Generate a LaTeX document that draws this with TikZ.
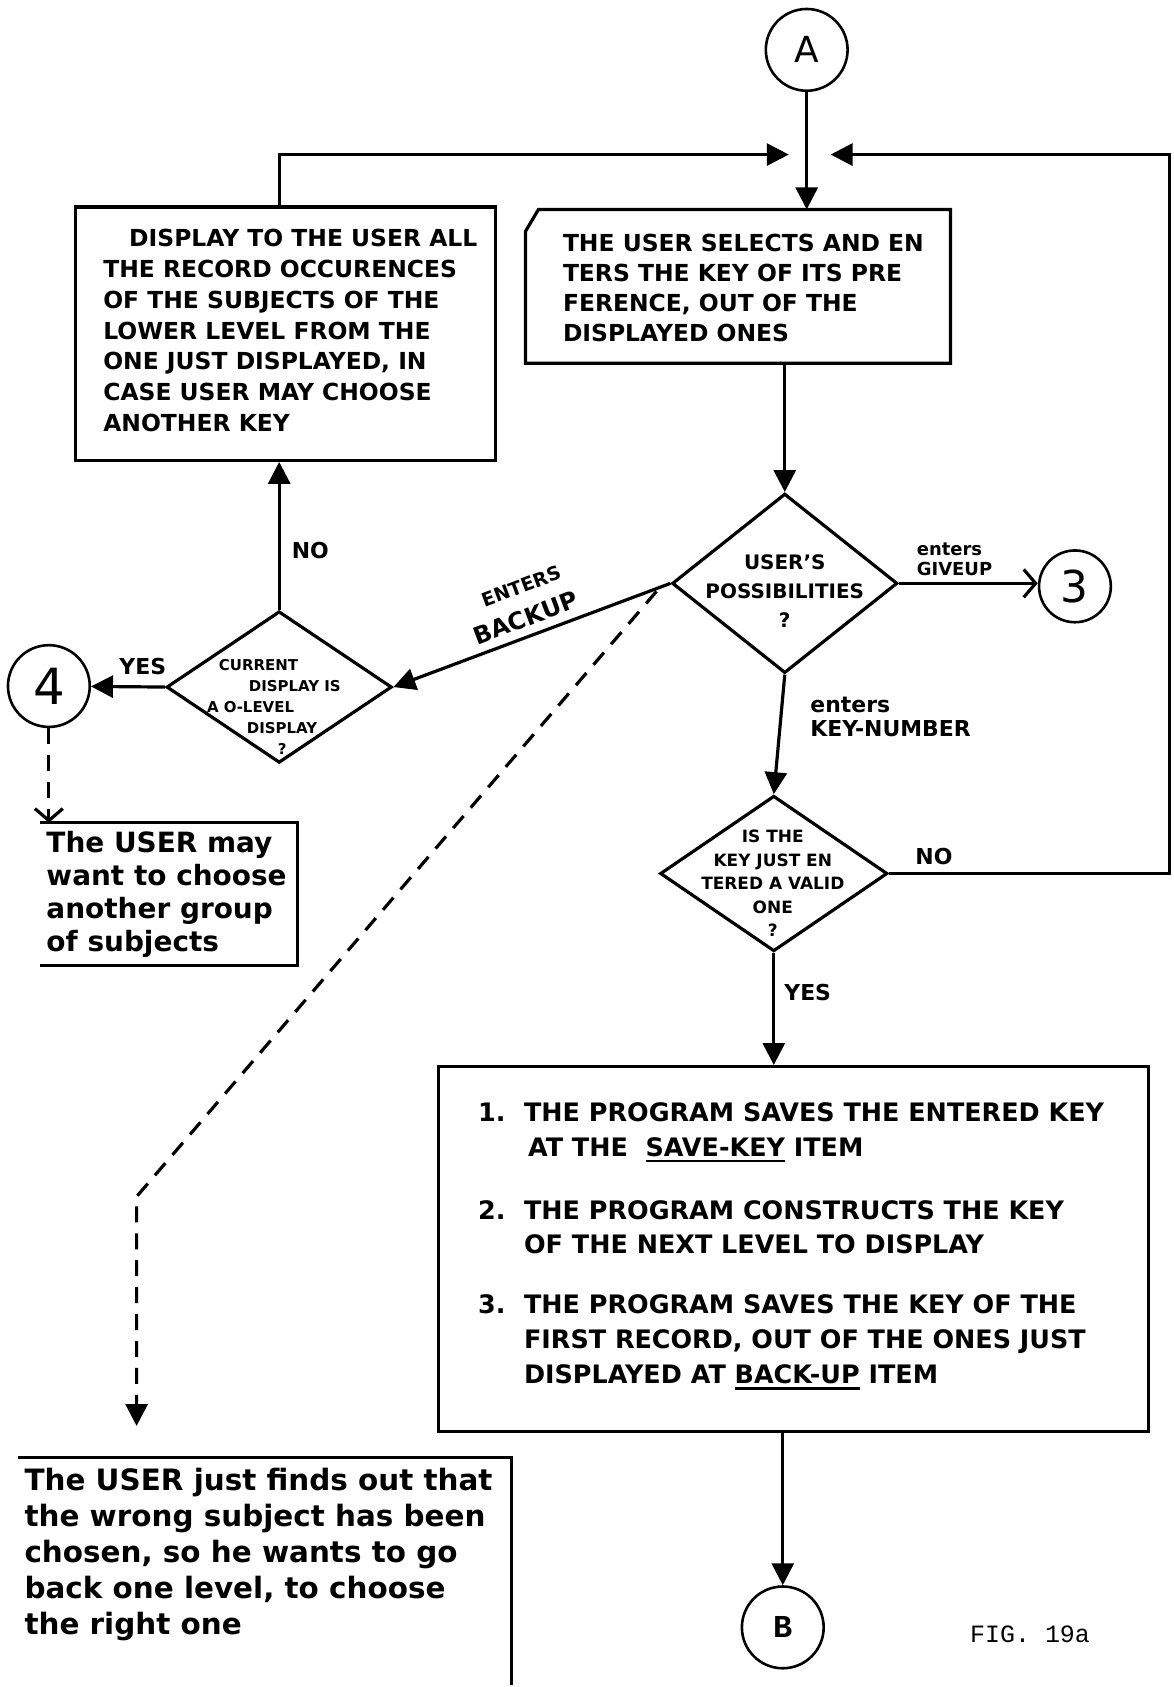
\documentclass[tikz,border=0pt]{standalone}
\usepackage{fontspec}
\setmainfont{DejaVu Sans}
\newfontfamily\typefont{Liberation Mono}
\usetikzlibrary{arrows.meta,shapes.geometric}
% thick underline for item names
\newcommand{\undr}[1]{\leavevmode\vtop{\hbox{#1}\kern3pt\hrule height 2.6pt}}
\newcommand{\fs}[2]{\fontsize{#1}{#2}\selectfont}
\begin{document}
\begin{tikzpicture}[x=1pt,y=-1pt,line width=3.2pt,
  flow/.style={-{Triangle[length=22pt,width=22pt]}},
  barb/.style={-{Straight Barb[length=12pt,width=28pt]}},
  dashline/.style={dash pattern=on 16pt off 11pt},
  procbox/.style={draw,anchor=north west,inner sep=0pt},
  decision/.style={draw,diamond,inner sep=0pt},
  connector/.style={draw,circle,minimum size=#1,inner sep=0pt,line width=2.6pt},
  body/.style={align=left,anchor=north west,inner sep=0pt},
  lbl/.style={inner sep=0pt,font=\bfseries\fs{22}{24}},
]
\fill[white] (0,0) rectangle (1177,1687);

% connectors (circles)
\node[connector=82pt, font=\fs{36}{36}] (A) at (809,50) {A};
\node[connector=72pt, font=\fs{44}{44}] (c3) at (1078,588) {3};
\node[connector=82pt, font=\fs{50}{50}] (c4) at (49,688) {4};
\node[connector=82pt, font=\typefont\bfseries\fs{32}{32}] (B) at (785,1632) {B};

% upper left process box
\node[procbox, minimum width=421pt, minimum height=254pt] (lbox) at (74,206) {};
\node[body, font=\bfseries\fs{23.5}{31}] (ltext) at (102,228)
  {\hspace*{26pt}DISPLAY TO THE USER ALL\\
   THE RECORD OCCURENCES\\
   OF THE SUBJECTS OF THE\\
   LOWER LEVEL FROM THE\\
   ONE JUST DISPLAYED, IN\\
   CASE USER MAY CHOOSE\\
   ANOTHER KEY};

% input box with a cut corner
\node[anchor=north west, minimum width=423pt, minimum height=151pt, inner sep=0pt] (rbox) at (527,210) {};
\draw (rbox.north east) -- (rbox.south east) -- (rbox.south west)
  -- ([yshift=-22pt]rbox.north west) -- ([xshift=13pt]rbox.north west) -- cycle;
\node[body, font=\bfseries\fs{23.5}{30}] (rtext) at (563,233)
  {THE USER SELECTS AND EN\\
   TERS THE KEY OF ITS PRE\\
   FERENCE, OUT OF THE\\
   DISPLAYED ONES};

% decisions
\node[decision, minimum width=226pt, minimum height=180pt] (d1) at (787,585) {};
\node[align=center, anchor=north, inner sep=0pt, font=\bfseries\fs{20}{29}] (d1text) at (787,555)
  {USER'S\\POSSIBILITIES\\?};

\node[decision, minimum width=226pt, minimum height=152pt] (d2) at (280,689) {};
\node[body, font=\bfseries\fs{15}{21}] (d2text) at (206,660)
  {\hspace*{12pt}CURRENT\\
   \hspace*{42pt}DISPLAY IS\\
   A O-LEVEL\\
   \hspace*{40pt}DISPLAY\\
   \hspace*{71pt}?};

\node[decision, minimum width=228pt, minimum height=156pt] (d3) at (776,876) {};
\node[align=center, anchor=north, inner sep=0pt, font=\bfseries\fs{17}{23.5}] (d3text) at (775,831)
  {IS THE\\KEY JUST EN\\TERED A VALID\\ONE\\?};

% note box below connector 4 (open on the left)
\node[anchor=north west, minimum width=255pt, minimum height=140pt, inner sep=0pt] (sbox) at (40,825) {};
\draw (sbox.north west) -- (sbox.north east) -- (sbox.south east) -- (sbox.south west);
\node[body, font=\bfseries\fs{28}{33}] (stext) at (45,832)
  {The USER may\\want to choose\\another group\\of subjects};

% program steps box
\node[procbox, minimum width=712pt, minimum height=366pt] (bbox) at (438,1068) {};
\node[body, font=\bfseries\fs{25.5}{35}] (btext) at (478,1104)
  {\makebox[46pt][l]{1.}THE PROGRAM SAVES THE ENTERED KEY\\
   \hspace*{50pt}AT THE \ \undr{SAVE-KEY} ITEM\\[28pt]
   \makebox[46pt][l]{2.}THE PROGRAM CONSTRUCTS THE KEY\\
   \hspace*{46pt}OF THE NEXT LEVEL TO DISPLAY\\[25pt]
   \makebox[46pt][l]{3.}THE PROGRAM SAVES THE KEY OF THE\\
   \hspace*{46pt}FIRST RECORD, OUT OF THE ONES JUST\\
   \hspace*{46pt}DISPLAYED AT \undr{BACK-UP} ITEM};

% note box at the bottom left
\node[anchor=north west, minimum width=492pt, minimum height=225pt, inner sep=0pt] (ubox) at (18,1462) {};
\draw (ubox.north west) -- (ubox.north east) -- (ubox.south east);
\node[body, font=\bfseries\fs{29.5}{36}] (utext) at (23,1471)
  {The USER just finds out that\\
   the wrong subject has been\\
   chosen, so he wants to go\\
   back one level, to choose\\
   the right one};

\node[inner sep=0pt, font=\typefont\fs{25}{25}] (fig) at (1033,1639) {FIG. 19a};

% flow lines
\coordinate (joinL) at (791,155);
\coordinate (joinR) at (833,155);
\coordinate (loopR) at (1173,155);

\draw[flow] (A) -- (A |- rbox.north);
\draw[flow] ([xshift=-6pt]lbox.north) |- (joinL);
\draw[flow] (d3.east) -| node[pos=0.08, above=7pt, lbl] {NO} (loopR) -- (joinR);
\draw[flow] (d1.north |- rbox.south) -- (d1.north);
\draw[barb] (d1.east) -- (d1.east -| c3.west)
  node[pos=0.4, above=6pt, lbl, align=left, font=\bfseries\fs{18}{20}] {enters\\GIVEUP};
\draw[flow] (d1.west) -- (d2.east)
  node[midway, sloped, above=8pt, lbl, align=center, font=\bfseries\fs{24}{30}]
  {{\fs{19}{30}\hspace*{14pt}ENTERS}\\[3pt]BACKUP};
\draw[flow] (d2.west) -- (c4) node[pos=0.3, above=10pt, lbl] {YES};
\draw[flow] (d2.north) -- (d2.north |- lbox.south) node[pos=0.4, right=11pt, lbl] {NO};
\draw[barb, dashline] (c4) -- (c4 |- sbox.north);
\draw[flow] (d1.south) -- (d3.north)
  node[pos=0.35, anchor=west, xshift=28pt, lbl, align=left] {enters\\KEY-NUMBER};
\draw[flow] (d3.south) -- (d3.south |- bbox.north) node[pos=0.35, right=9pt, lbl] {YES};
\draw[flow] (B.north |- bbox.south) -- (B);

% dashed return path
\coordinate (dashBend) at (137,1200);
\coordinate (dashEnd) at (137,1430);
\draw[flow, dashline] ([shift={(-14pt,-8pt)}]d1.west) -- (dashBend) -- (dashEnd);
\end{tikzpicture}
\end{document}
